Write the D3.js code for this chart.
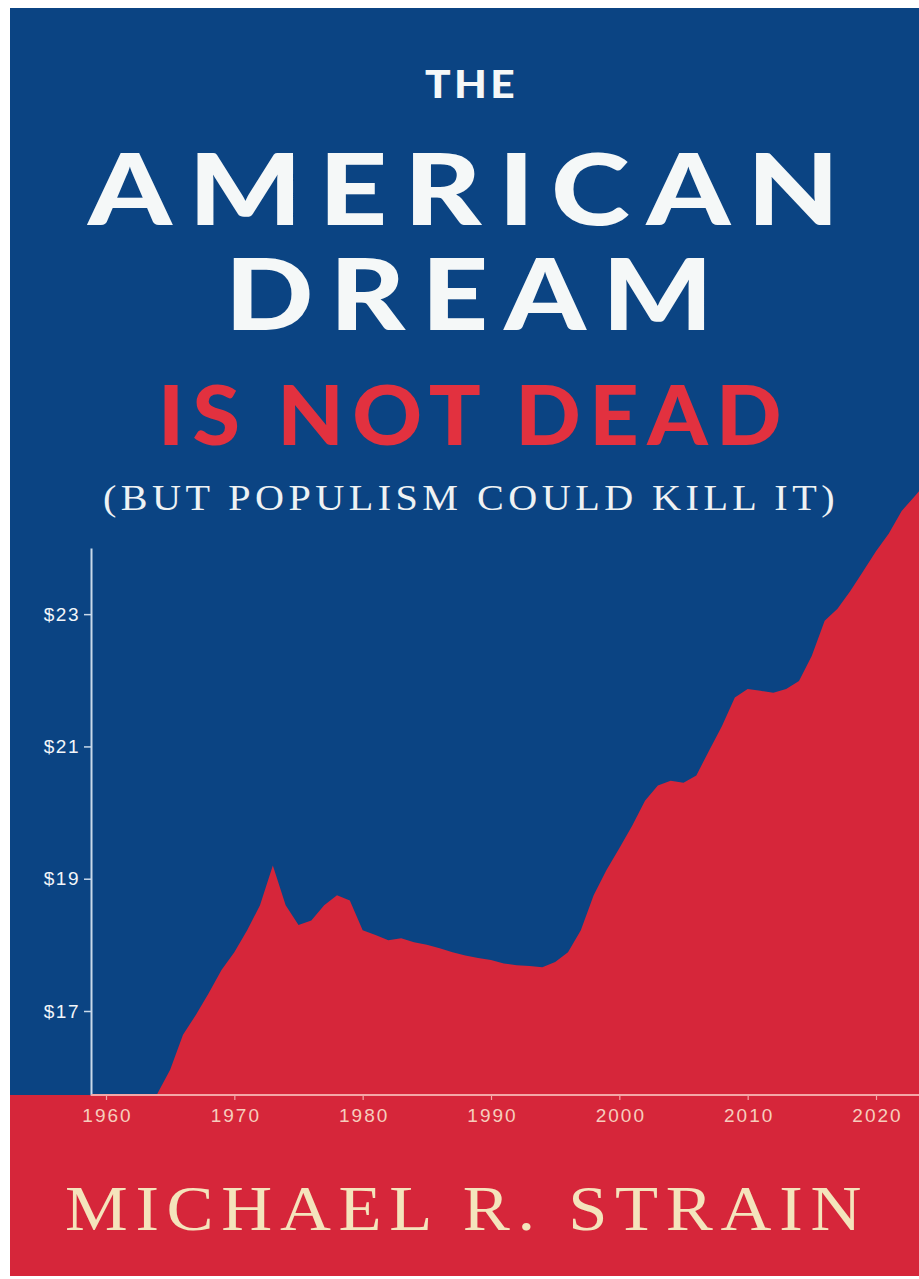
<!DOCTYPE html>
<html>
<head>
<meta charset="utf-8">
<script src="https://cdn.jsdelivr.net/npm/d3@7"></script>
<style>
  html, body { margin: 0; padding: 0; background: #fff; }
  svg { display: block; }
</style>
</head>
<body>
<svg id="container" width="919" height="1279"></svg>
<script>
const years = [1964,1965,1966,1967,1968,1969,1970,1971,1972,1973,1974,1975,1976,1977,1978,1979,
  1980,1981,1982,1983,1984,1985,1986,1987,1988,1989,1990,1991,1992,1993,1994,1995,1996,1997,1998,1999,
  2000,2001,2002,2003,2004,2005,2006,2007,2008,2009,2010,2011,2012,2013,2014,2015,2016,2017,2018,2019,
  2020,2021,2022,2023,2024]
const wages = [15.75,16.11,16.64,16.94,17.27,17.62,17.89,18.22,18.60,19.20,18.60,18.30,18.37,18.60,18.75,18.67,
  18.22,18.15,18.07,18.10,18.04,18.00,17.95,17.89,17.84,17.80,17.77,17.72,17.69,17.68,17.66,17.74,17.89,18.22,18.75,19.13,
  19.46,19.80,20.18,20.41,20.48,20.45,20.56,20.94,21.31,21.74,21.87,21.84,21.81,21.87,21.99,22.37,22.90,23.08,23.35,23.65,
  23.95,24.22,24.56,24.78,25.00]
const yearTicks = [1960,1970,1980,1990,2000,2010,2020]
const dollarTicks = [17,19,21,23]

const svg = d3.select("#container")
const blue = "#0b4483"
const red = "#d6263a"

// cover area
const cover = {x: 10, y: 8, w: 909, h: 1268}
svg.append("clipPath").attr("id", "coverClip")
  .append("rect").attr("x", cover.x).attr("y", cover.y).attr("width", cover.w).attr("height", cover.h)

const g = svg.append("g").attr("clip-path", "url(#coverClip)")
g.append("rect")
  .attr("x", cover.x).attr("y", cover.y).attr("width", cover.w).attr("height", cover.h)
  .attr("fill", blue)

//Scales
const x = d3.scaleLinear().domain([1960, 2020]).range([106, 876])
const y = d3.scaleLinear().domain([15.73, 24]).range([1095, 548])
const baseY = y(15.73)

const data = years.map((yr, i) => ({year: yr, value: wages[i]}))
const area = d3.area()
  .x(d => x(d.year))
  .y0(baseY)
  .y1(d => y(d.value))

g.append("path")
  .datum(data)
  .attr("d", area)
  .attr("fill", red)

// red band under the chart
g.append("rect")
  .attr("x", cover.x).attr("y", baseY).attr("width", cover.w).attr("height", cover.y + cover.h - baseY)
  .attr("fill", red)

// y axis
const yAxis = g.append("g")
  .attr("transform", "translate(91,0)")
  .call(d3.axisLeft(y).tickValues(dollarTicks).tickSize(7).tickSizeOuter(0).tickFormat(d => "$" + d))
yAxis.select(".domain").attr("stroke", "#c9d9ea").attr("stroke-width", 2)
yAxis.selectAll(".tick line").attr("stroke", "#c9d9ea").attr("stroke-width", 1.5)
yAxis.selectAll(".tick text")
  .attr("fill", "#f2f6fa")
  .attr("font-family", "Liberation Sans, Arial, sans-serif")
  .attr("font-size", 19)
  .attr("letter-spacing", 1.5)
  .attr("x", -11)

// x axis
const xAxis = g.append("g")
  .attr("transform", `translate(0,${baseY})`)
  .call(d3.axisBottom(x).tickValues(yearTicks).tickSize(5).tickSizeOuter(0).tickFormat(d3.format("d")))
xAxis.select(".domain").remove()
xAxis.append("line")
  .attr("x1", 91).attr("x2", 919).attr("y1", 0).attr("y2", 0)
  .attr("stroke", "#f4a7a7").attr("stroke-width", 2)
xAxis.selectAll(".tick line").attr("stroke", "#f4a7a7").attr("stroke-width", 1.2)
xAxis.selectAll(".tick text")
  .attr("fill", "#f6cdbd")
  .attr("font-family", "Liberation Sans, Arial, sans-serif")
  .attr("font-size", 19)
  .attr("letter-spacing", 2)
  .attr("dx", 1)
  .attr("dy", "1.0em")

// titles: textLength includes the trailing letter-spacing, so add it back
function drawText(txt, opts){
  g.append("text")
    .attr("x", opts.x)
    .attr("y", opts.y)
    .attr("textLength", opts.w + opts.ls)
    .attr("lengthAdjust", "spacingAndGlyphs")
    .attr("letter-spacing", opts.ls)
    .attr("font-family", opts.family)
    .attr("font-weight", opts.weight || "normal")
    .attr("font-size", opts.size)
    .attr("fill", opts.fill)
    .text(txt)
}
const sans = "Lato, 'Open Sans', sans-serif"
const serif = "'Liberation Serif', 'DejaVu Serif', serif"
drawText("THE", {x: 425, y: 98, w: 90, ls: 3, size: 38, family: sans, weight: 900, fill: "#f5f8f8"})
drawText("AMERICAN", {x: 88, y: 225, w: 754, ls: 14, size: 100, family: sans, weight: 900, fill: "#f5f8f8"})
drawText("DREAM", {x: 225, y: 330, w: 490, ls: 14, size: 100, family: sans, weight: 900, fill: "#f5f8f8"})
drawText("IS NOT DEAD", {x: 158, y: 445, w: 624, ls: 8, size: 82, family: sans, weight: 900, fill: "#e2313f"})
drawText("(BUT POPULISM COULD KILL IT)", {x: 103, y: 510, w: 732, ls: 4, size: 36, family: serif, fill: "#eef2f4"})
drawText("MICHAEL R. STRAIN", {x: 65, y: 1230, w: 797, ls: 7, size: 64, family: serif, fill: "#f4e4bc"})
</script>
</body>
</html>
